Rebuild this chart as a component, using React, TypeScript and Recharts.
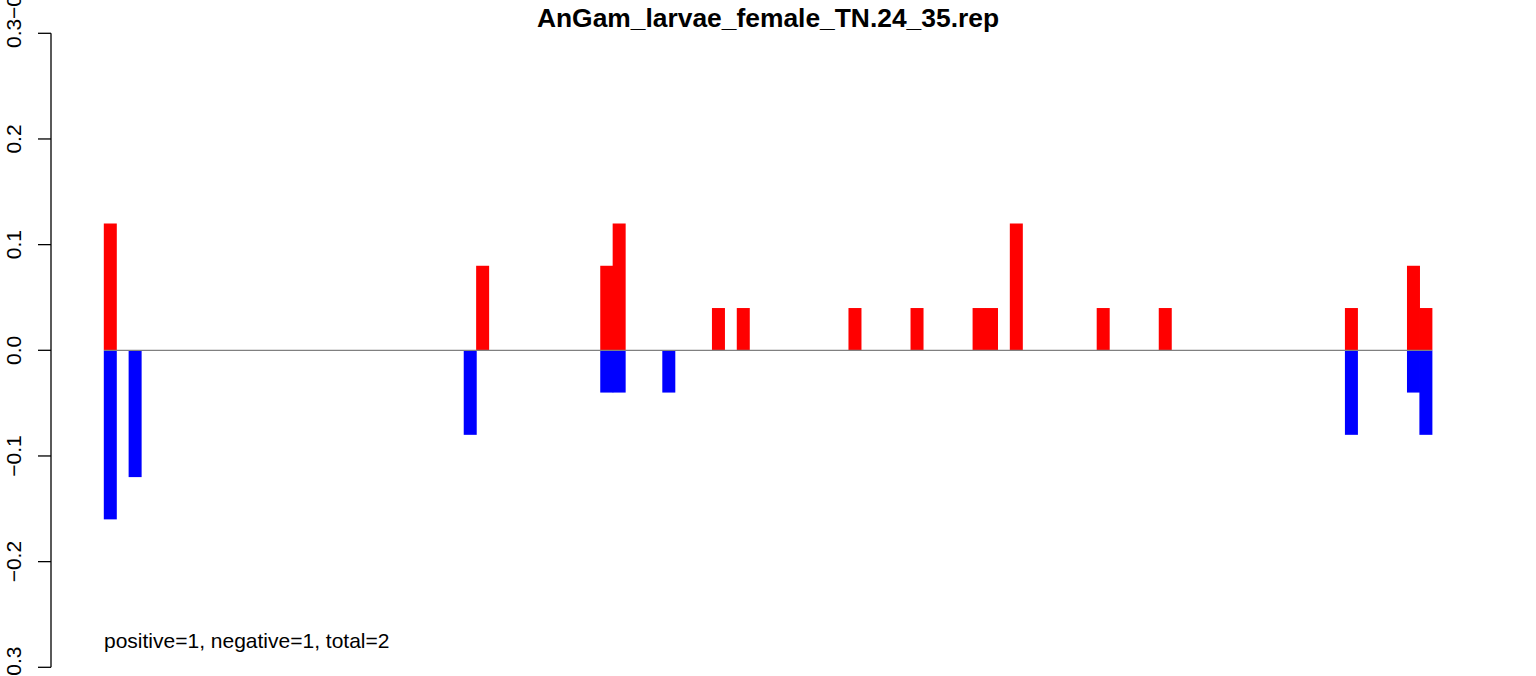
import React from 'react';
import { BarChart, Bar, XAxis, YAxis, ReferenceLine } from 'recharts';

// bins along the track, counts shown as fractions
const N_BINS = 107;
const POS_BINS = [0, 30, 40, 41, 49, 51, 60, 65, 70, 71, 73, 80, 85, 100, 105, 106];
const POS_VALUES = [0.12, 0.08, 0.08, 0.12, 0.04, 0.04, 0.04, 0.04, 0.04, 0.04, 0.12, 0.04, 0.04, 0.04, 0.08, 0.04];
const NEG_BINS = [0, 2, 29, 40, 41, 45, 100, 105, 106];
const NEG_VALUES = [-0.16, -0.12, -0.08, -0.04, -0.04, -0.04, -0.08, -0.04, -0.08];
const Y_TICKS = [-0.3, -0.2, -0.1, 0, 0.1, 0.2, 0.3];

const TITLE = 'AnGam_larvae_female_TN.24_35.rep';
const NEXT_TITLE = 'AnGam_larvae_female_TN';
const SUMMARY = 'positive=1, negative=1, total=2';

const FONT = '"Liberation Sans", Arial, Helvetica, sans-serif';
const XPAD = 53;

const data = Array.from({ length: N_BINS }, (_, i) => {
  const p = POS_BINS.indexOf(i);
  const n = NEG_BINS.indexOf(i);
  return {
    bin: String(i),
    pos: p >= 0 ? POS_VALUES[p] : null,
    neg: n >= 0 ? NEG_VALUES[n] : null,
  };
});

const fmt = (v: number) => {
  const s = v.toFixed(1);
  return s.startsWith('-') ? '\u2212' + s.slice(1) : s;
};

const YTick = (props: any) => {
  const { y, payload } = props;
  const x = 21;
  return (
    <text
      x={x}
      y={y}
      transform={`rotate(-90, ${x}, ${y})`}
      textAnchor="middle"
      fontFamily={FONT}
      fontSize={21}
      fill="#000"
    >
      {fmt(payload.value)}
    </text>
  );
};

// rect slightly widened so neighbouring bins touch without a seam
const BinRect = (p: any) => {
  if (!p.height || !p.width) return null;
  const y = Math.min(p.y, p.y + p.height);
  const h = Math.abs(p.height);
  return <rect x={p.x - 0.2} y={y} width={p.width + 1} height={h} fill={p.fill} />;
};

const ZeroLine = (p: any) => (
  <line
    x1={p.x1 + XPAD}
    x2={p.x2 - XPAD}
    y1={p.y1}
    y2={p.y2}
    stroke="#808080"
    strokeWidth={1.3}
  />
);

export default function App() {
  return (
    <div style={{ position: 'relative', width: 1536, height: 676, overflow: 'hidden', background: '#fff' }}>
      <style>{'body{margin:0}'}</style>
      <BarChart
        width={1536}
        height={676}
        data={data}
        margin={{ top: 33.3, right: 51, bottom: 8.7, left: 0 }}
        barCategoryGap={0}
        barGap={0}
        stackOffset="sign"
      >
        <XAxis dataKey="bin" hide padding={{ left: XPAD, right: XPAD }} />
        <YAxis
          type="number"
          width={51}
          domain={[-0.3, 0.3]}
          ticks={Y_TICKS}
          interval={0}
          allowDataOverflow
          tickSize={13}
          tickLine={{ stroke: '#000', strokeWidth: 1.3 }}
          axisLine={{ stroke: '#000', strokeWidth: 1.3 }}
          tick={<YTick />}
        />
        <Bar dataKey="pos" stackId="s" fill="#FF0000" shape={BinRect} isAnimationActive={false} />
        <Bar dataKey="neg" stackId="s" fill="#0000FF" shape={BinRect} isAnimationActive={false} />
        <ReferenceLine y={0} shape={ZeroLine} />
      </BarChart>
      <svg
        width={1536}
        height={676}
        style={{ position: 'absolute', left: 0, top: 0, pointerEvents: 'none' }}
      >
        <text x={768} y={26.5} textAnchor="middle" fontFamily={FONT} fontSize={26.4} fontWeight="bold" fill="#000">
          {TITLE}
        </text>
        <text x={104} y={648} fontFamily={FONT} fontSize={21} fill="#000">
          {SUMMARY}
        </text>
        <text x={21} y={19} transform="rotate(-90, 21, 19)" textAnchor="start" fontFamily={FONT} fontSize={21} fill="#000">
          {'\u22120.3'}
        </text>
        <text x={744.5} y={696} textAnchor="middle" fontFamily={FONT} fontSize={26.4} fontWeight="bold" fill="#000">
          {NEXT_TITLE}
        </text>
      </svg>
    </div>
  );
}
